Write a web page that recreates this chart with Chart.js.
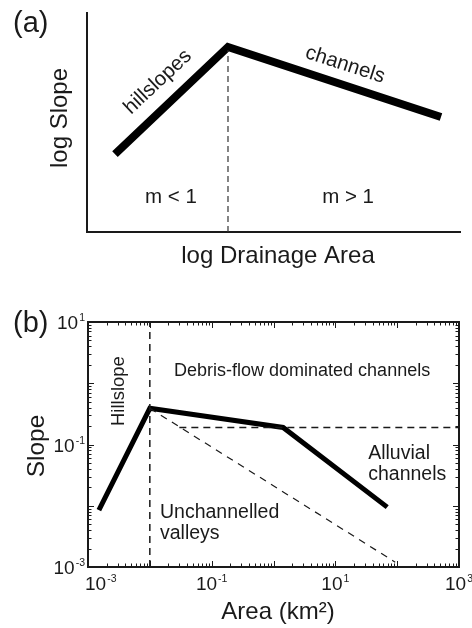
<!DOCTYPE html>
<html>
<head>
<meta charset="utf-8">
<script src="https://cdn.jsdelivr.net/npm/chart.js@4.4.1/dist/chart.umd.min.js"></script>
<style>
  html, body { margin: 0; padding: 0; background: #fff; }
  #wrap { position: relative; width: 472px; height: 628px; }
  #panelA { position: absolute; left: 0; top: 0; }
  #panelB { position: absolute; left: 0; top: 300px; }
</style>
</head>
<body>
<div id="wrap">
  <div id="panelA"><canvas id="chartA" width="472" height="300"></canvas></div>
  <div id="panelB"><canvas id="chartB" width="472" height="328"></canvas></div>
</div>
<script>
const FONT = '"Liberation Sans", Arial, Helvetica, sans-serif';
const INK = '#1a1a1a';

// (a) schematic, arbitrary log units
const aArea = [0.75, 3.78, 9.49];
const aSlope = [3.56, 8.45, 5.25];
const aBreakArea = [3.78, 3.78];
const aBreakSlope = [0, 8.3];

// (b) slope-area data
const bArea = [0.0015, 0.01, 1.43, 69];
const bSlope = [0.0085, 0.39, 0.19, 0.0095];
const debrisArea = [0.03, 1000];
const debrisSlope = [0.19, 0.19];
const valleyArea = [0.01, 93];
const valleySlope = [0.39, 0.0012];
const hillArea = [0.01, 0.01];
const hillSlope = [0.001, 10];

const xTickExps = [-3, -1, 1, 3];
const yTickExps = [-3, -1, 1];

const pts = (xs, ys) => xs.map((x, i) => ({ x: x, y: ys[i] }));

function text(ctx, str, x, y, size, opts) {
    opts = opts || {};
    ctx.save();
    ctx.translate(x, y);
    if (opts.angle) ctx.rotate(opts.angle * Math.PI / 180);
    ctx.font = size + 'px ' + FONT;
    ctx.fillStyle = INK;
    ctx.textAlign = opts.align || 'center';
    ctx.textBaseline = opts.baseline || 'middle';
    ctx.fillText(str, 0, 0);
    ctx.restore();
}

function drawPow(ctx, exp, x, y, align) {
    const sup = String(exp);
    ctx.font = '19px ' + FONT;
    const wb = ctx.measureText('10').width;
    ctx.font = '10.5px ' + FONT;
    const ws = ctx.measureText(sup).width + 1;
    let x0 = x;
    if (align === 'center') x0 = x - (wb + ws) / 2;
    if (align === 'right') x0 = x - wb - ws;
    ctx.fillStyle = INK;
    ctx.textAlign = 'left';
    ctx.textBaseline = 'middle';
    ctx.font = '19px ' + FONT;
    ctx.fillText('10', x0, y);
    ctx.font = '10.5px ' + FONT;
    ctx.fillText(sup, x0 + wb + 1, y - 5.5);
}

// ---------- panel (a) ----------
const aNotes = [
    { text: 'hillslopes', x: 1.90, y: 6.85, angle: -43 },
    { text: 'channels', x: 6.92, y: 7.63, angle: 18 },
    { text: 'm < 1', x: 2.25, y: 1.6, angle: 0 },
    { text: 'm > 1', x: 7.0, y: 1.6, angle: 0 }
];

const labelsA = {
    id: 'labelsA',
    afterDraw(chart) {
        const ctx = chart.ctx;
        const sx = chart.scales.x, sy = chart.scales.y;
        aNotes.forEach(n => {
            text(ctx, n.text, sx.getPixelForValue(n.x), sy.getPixelForValue(n.y), 20.5, { angle: n.angle });
        });
        text(ctx, '(a)', 13, 32, 29, { align: 'left', baseline: 'alphabetic' });
        text(ctx, 'log Slope', 67, 118, 24, { angle: -90, baseline: 'alphabetic' });
        text(ctx, 'log Drainage Area', 278, 263, 24, { baseline: 'alphabetic' });
    }
};

new Chart(document.getElementById('chartA'), {
    type: 'scatter',
    data: {
        datasets: [
            {
                data: pts(aBreakArea, aBreakSlope),
                showLine: true, borderColor: '#333', borderWidth: 1.2,
                borderDash: [6, 4], pointRadius: 0
            },
            {
                data: pts(aArea, aSlope),
                showLine: true, borderColor: '#000', borderWidth: 8,
                borderJoinStyle: 'miter', borderCapStyle: 'butt', pointRadius: 0
            }
        ]
    },
    options: {
        responsive: false,
        animation: false,
        layout: { padding: { left: 87, top: 13, right: 12, bottom: 68 } },
        scales: {
            x: {
                type: 'linear', min: 0, max: 10,
                ticks: { display: false },
                grid: { display: false, drawTicks: false },
                border: { display: true, color: INK, width: 2 }
            },
            y: {
                type: 'linear', min: 0, max: 10,
                ticks: { display: false },
                grid: { display: false, drawTicks: false },
                border: { display: true, color: INK, width: 2 }
            }
        },
        plugins: { legend: { display: false }, tooltip: { enabled: false } }
    },
    plugins: [labelsA]
});

// ---------- panel (b) ----------
const bNotes = [
    { lines: ['Debris-flow dominated channels'], x: 2.9, y: 1.58, align: 'center', size: 18 },
    { lines: ['Hillslope'], x: 0.00316, y: 0.746, align: 'center', size: 18.5, angle: -90 },
    { lines: ['Alluvial', 'channels'], x: 34, y: 0.072, align: 'left', size: 19.5 },
    { lines: ['Unchannelled', 'valleys'], x: 0.0146, y: 0.0076, align: 'left', size: 19.5 }
];

const axesB = {
    id: 'axesB',
    afterDraw(chart) {
        const ctx = chart.ctx;
        const sx = chart.scales.x, sy = chart.scales.y;
        const { left, right, top, bottom } = chart.chartArea;

        ctx.save();
        ctx.strokeStyle = INK;
        ctx.lineWidth = 1;
        ctx.beginPath();
        for (let e = -3; e < 3; e++) {
            for (let d = 1; d < 10; d++) {
                const px = Math.round(sx.getPixelForValue(d * Math.pow(10, e))) + 0.5;
                const len = d === 1 ? 6 : 3.5;
                ctx.moveTo(px, bottom); ctx.lineTo(px, bottom - len);
                ctx.moveTo(px, top); ctx.lineTo(px, top + len);
            }
        }
        for (let e = -3; e < 1; e++) {
            for (let d = 1; d < 10; d++) {
                const py = Math.round(sy.getPixelForValue(d * Math.pow(10, e))) + 0.5;
                const len = d === 1 ? 6 : 3.5;
                ctx.moveTo(left, py); ctx.lineTo(left + len, py);
                ctx.moveTo(right, py); ctx.lineTo(right - len, py);
            }
        }
        ctx.stroke();
        ctx.lineWidth = 2;
        ctx.strokeRect(left, top, right - left, bottom - top);
        ctx.restore();

        xTickExps.forEach((e, i) => {
            const px = sx.getPixelForValue(Math.pow(10, e));
            if (i === 0) drawPow(ctx, e, px - 3, 285, 'left');
            else drawPow(ctx, e, px, 285, 'center');
        });
        yTickExps.forEach(e => {
            drawPow(ctx, e, left - 3, sy.getPixelForValue(Math.pow(10, e)) + 2, 'right');
        });

        bNotes.forEach(n => {
            const px = sx.getPixelForValue(n.x), py = sy.getPixelForValue(n.y);
            n.lines.forEach((s, k) => {
                text(ctx, s, px, py + k * 21, n.size, { align: n.align, angle: n.angle });
            });
        });

        text(ctx, '(b)', 13, 32, 29, { align: 'left', baseline: 'alphabetic' });
        text(ctx, 'Slope', 44, 146, 24.5, { angle: -90, baseline: 'alphabetic' });
        text(ctx, 'Area (km\u00b2)', 278, 319, 24, { baseline: 'alphabetic' });
    }
};

new Chart(document.getElementById('chartB'), {
    type: 'scatter',
    data: {
        datasets: [
            {
                data: pts(hillArea, hillSlope),
                showLine: true, borderColor: INK, borderWidth: 1.5,
                borderDash: [7, 5], pointRadius: 0
            },
            {
                data: pts(debrisArea, debrisSlope),
                showLine: true, borderColor: INK, borderWidth: 1.5,
                borderDash: [7, 5], pointRadius: 0
            },
            {
                data: pts(valleyArea, valleySlope),
                showLine: true, borderColor: INK, borderWidth: 1.2,
                borderDash: [7, 6], pointRadius: 0
            },
            {
                data: pts(bArea, bSlope),
                showLine: true, borderColor: '#000', borderWidth: 5,
                borderJoinStyle: 'miter', borderCapStyle: 'butt', pointRadius: 0
            }
        ]
    },
    options: {
        responsive: false,
        animation: false,
        layout: { padding: { left: 88, top: 22, right: 13, bottom: 61 } },
        scales: {
            x: { type: 'logarithmic', min: 0.001, max: 1000, display: false },
            y: { type: 'logarithmic', min: 0.001, max: 10, display: false }
        },
        plugins: { legend: { display: false }, tooltip: { enabled: false } }
    },
    plugins: [axesB]
});
</script>
</body>
</html>
